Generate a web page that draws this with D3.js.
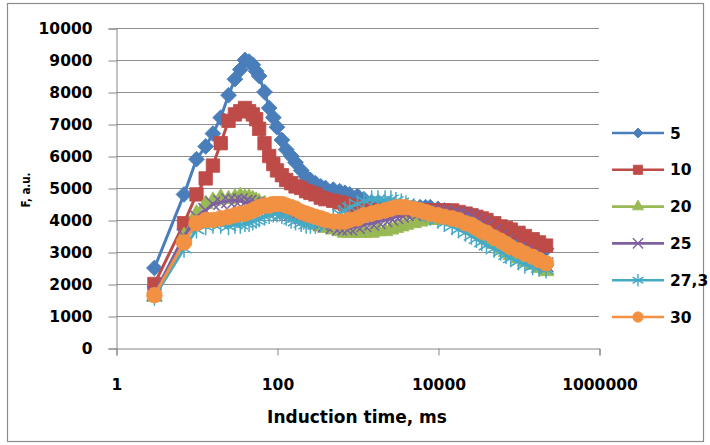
<!DOCTYPE html>
<html>
<head>
<meta charset="utf-8">
<script src="https://cdn.jsdelivr.net/npm/d3@7"></script>
<style>
  body { margin: 0; background: #fff; }
  svg { display: block; }
  .lbl { font-family: "DejaVu Sans", sans-serif; font-weight: bold; fill: #000; }
</style>
</head>
<body>
<svg id="chart"></svg>
<script>
// induction times, ms (shared by all series)
var times = [3, 7, 10, 13, 16, 20, 25, 30, 35, 40, 45, 50, 55, 60, 70, 80, 90, 100, 115, 130,
  150, 170, 200, 230, 260, 300, 350, 400, 500, 600, 700, 800, 1000, 1200, 1500, 1800, 2200, 2600, 3000, 3500,
  4000, 5000, 6000, 7000, 8000, 10000, 12000, 15000, 18000, 22000, 26000, 30000, 35000, 40000, 50000, 60000, 70000, 80000, 100000, 120000,
  150000, 180000, 220000];

var s5 = [2500, 4800, 5900, 6300, 6700, 7200, 7900, 8400, 8700, 9000, 8950, 8850, 8650, 8500, 8000, 7500, 7200, 6900, 6500, 6200,
  6000, 5800, 5550, 5350, 5250, 5150, 5050, 5000, 4950, 4900, 4850, 4800, 4750, 4650, 4550, 4500, 4450, 4400, 4400, 4400,
  4400, 4400, 4400, 4400, 4400, 4350, 4300, 4250, 4200, 4100, 4000, 3950, 3900, 3850, 3750, 3650, 3550, 3500, 3400, 3300,
  3200, 3150, 3100];
var s10 = [2000, 3900, 4800, 5300, 5700, 6400, 7100, 7300, 7400, 7500, 7400, 7300, 7150, 6850, 6400, 6000, 5750, 5550, 5400, 5250,
  5150, 5050, 5000, 4900, 4850, 4800, 4700, 4650, 4600, 4550, 4500, 4450, 4400, 4350, 4300, 4300, 4300, 4300, 4300, 4300,
  4300, 4300, 4300, 4300, 4300, 4300, 4300, 4300, 4250, 4200, 4150, 4100, 4050, 4000, 3900, 3800, 3750, 3700, 3600, 3500,
  3400, 3300, 3200];
var s20 = [1600, 3500, 4200, 4500, 4600, 4700, 4650, 4700, 4750, 4700, 4700, 4650, 4600, 4550, 4500, 4450, 4400, 4350, 4300, 4250,
  4200, 4150, 4050, 4000, 3950, 3850, 3800, 3750, 3700, 3650, 3600, 3600, 3600, 3600, 3600, 3650, 3650, 3700, 3750, 3800,
  3850, 3900, 3950, 4000, 4000, 4000, 4000, 3950, 3900, 3800, 3700, 3600, 3500, 3400, 3250, 3100, 3000, 2900, 2800, 2700,
  2600, 2500, 2400];
var s25 = [1700, 3500, 4100, 4300, 4500, 4550, 4600, 4600, 4600, 4550, 4550, 4500, 4500, 4450, 4400, 4400, 4350, 4300, 4250, 4250,
  4200, 4150, 4100, 4050, 4000, 3950, 3900, 3850, 3800, 3750, 3750, 3750, 3800, 3850, 3900, 3950, 4000, 4050, 4100, 4150,
  4200, 4200, 4250, 4250, 4250, 4250, 4250, 4200, 4200, 4150, 4100, 4000, 3900, 3800, 3650, 3500, 3350, 3250, 3100, 3000,
  2850, 2750, 2600];
var s273 = [1600, 3100, 3700, 3800, 3850, 3850, 3800, 3850, 3850, 3900, 3900, 3950, 4000, 4050, 4100, 4150, 4200, 4200, 4150, 4100,
  4000, 3950, 3900, 3850, 3850, 3850, 3900, 3950, 4050, 4200, 4300, 4400, 4500, 4600, 4650, 4650, 4650, 4650, 4600, 4550,
  4500, 4400, 4300, 4200, 4100, 4000, 3900, 3800, 3700, 3600, 3500, 3400, 3300, 3200, 3100, 3000, 2900, 2800, 2700, 2600,
  2550, 2500, 2450];
var s30 = [1650, 3300, 3900, 4000, 4000, 4050, 4100, 4150, 4200, 4200, 4250, 4300, 4350, 4400, 4450, 4450, 4500, 4500, 4500, 4450,
  4400, 4350, 4250, 4200, 4150, 4100, 4050, 4000, 3950, 3950, 3950, 4000, 4050, 4150, 4200, 4250, 4300, 4350, 4400, 4400,
  4400, 4350, 4300, 4250, 4200, 4150, 4100, 4050, 4000, 3900, 3850, 3750, 3650, 3600, 3450, 3350, 3250, 3150, 3050, 2950,
  2850, 2750, 2650];

var seriesNames = ["5", "10", "20", "25", "27,3", "30"];
var seriesValues = [s5, s10, s20, s25, s273, s30];
var seriesColors = ["#4a7ebb", "#be4b48", "#98b954", "#7d60a0", "#46aac5", "#f39143"];

var yTicks = [0, 1000, 2000, 3000, 4000, 5000, 6000, 7000, 8000, 9000, 10000];
var xTicks = [1, 100, 10000, 1000000];

var W = 710, H = 445;
var plotL = 116, plotR = 599, plotT = 28, plotB = 348;

var svg = d3.select("#chart").attr("width", W).attr("height", H);

//outer frame
svg.append("rect")
  .attr("x", 7.5).attr("y", 3.5)
  .attr("width", 696).attr("height", 438)
  .attr("fill", "#fff")
  .attr("stroke", "#8c8c8c")
  .attr("stroke-width", 1.2);

var x = d3.scaleLog().domain([1, 1000000]).range([plotL, plotR]);
var y = d3.scaleLinear().domain([0, 10000]).range([plotB, plotT]);

//gridlines
svg.append("g").selectAll("line")
  .data(yTicks.slice(1))
  .enter().append("line")
    .attr("x1", plotL).attr("x2", plotR)
    .attr("y1", function(d) { return y(d) + 0.5; })
    .attr("y2", function(d) { return y(d) + 0.5; })
    .attr("stroke", "#8e8e8e")
    .attr("stroke-width", 1);

//axes
var yAxis = svg.append("g")
  .attr("transform", "translate(" + (plotL + 0.5) + ",0.5)")
  .call(d3.axisLeft(y).tickValues(yTicks).tickSize(8).tickPadding(16).tickFormat(d3.format("d")));
var xAxis = svg.append("g")
  .attr("transform", "translate(0.5," + (plotB + 0.5) + ")")
  .call(d3.axisBottom(x).tickValues(xTicks).tickSize(7).tickPadding(23).tickFormat(d3.format("d")));

[yAxis, xAxis].forEach(function(a) {
  a.selectAll(".domain").attr("stroke", "#868686");
  a.selectAll(".tick line").attr("stroke", "#868686");
  a.selectAll(".tick text")
    .attr("font-size", 15.5)
    .attr("fill", "#000")
    .style("font-family", "DejaVu Sans")
    .style("font-weight", "bold");
});

//axis titles
svg.append("text")
  .attr("class", "lbl")
  .attr("x", 357).attr("y", 423)
  .attr("text-anchor", "middle")
  .attr("font-size", 17)
  .text("Induction time, ms");

svg.append("text")
  .attr("class", "lbl")
  .attr("transform", "translate(30,190) rotate(-90)")
  .attr("text-anchor", "middle")
  .attr("font-size", 12.5)
  .attr("textLength", 35)
  .attr("lengthAdjust", "spacingAndGlyphs")
  .text("F, a.u.");

//markers
var shapes = [d3.symbolSquare, d3.symbolSquare, d3.symbolTriangle, d3.symbolTimes, d3.symbolAsterisk, d3.symbolCircle];
var sizes = [125, 180, 105, 140, 220, 190];
var legendSizes = [50, 85, 55, 70, 110, 85];
var rotations = [45, 0, 0, 0, 0, 0];
var stroked = [false, false, false, true, true, false];

var line = d3.line()
  .x(function(d) { return x(d[0]); })
  .y(function(d) { return y(d[1]); });

seriesValues.forEach(function(vals, i) {
  var pts = times.map(function(t, j) { return [t, vals[j]]; });
  var g = svg.append("g");
  g.append("path")
    .datum(pts)
    .attr("fill", "none")
    .attr("stroke", seriesColors[i])
    .attr("stroke-width", 3)
    .attr("stroke-linejoin", "round")
    .attr("d", line);
  g.selectAll(".m")
    .data(pts)
    .enter().append("path")
      .attr("class", "m")
      .attr("transform", function(d) { return "translate(" + x(d[0]) + "," + y(d[1]) + ") rotate(" + rotations[i] + ")"; })
      .attr("d", d3.symbol().type(shapes[i]).size(sizes[i])())
      .attr("fill", stroked[i] ? "none" : seriesColors[i])
      .attr("stroke", seriesColors[i])
      .attr("stroke-width", stroked[i] ? 1.5 : 0.8);
});

//legend
var legend = svg.selectAll(".legend")
  .data(seriesNames)
  .enter().append("g")
    .attr("class", "legend")
    .attr("transform", function(d, i) { return "translate(612," + (133 + i * 36.8) + ")"; });

legend.append("line")
  .attr("x1", 0).attr("x2", 52)
  .attr("stroke", function(d, i) { return seriesColors[i]; })
  .attr("stroke-width", 2.6);

legend.append("path")
  .attr("transform", function(d, i) { return "translate(26,0) rotate(" + rotations[i] + ")"; })
  .attr("d", function(d, i) { return d3.symbol().type(shapes[i]).size(legendSizes[i])(); })
  .attr("fill", function(d, i) { return stroked[i] ? "none" : seriesColors[i]; })
  .attr("stroke", function(d, i) { return seriesColors[i]; })
  .attr("stroke-width", function(d, i) { return stroked[i] ? 1.4 : 0.8; });

legend.append("text")
  .attr("class", "lbl")
  .attr("x", 58)
  .attr("dy", "0.36em")
  .attr("font-size", 15.5)
  .text(function(d) { return d; });
</script>
</body>
</html>
